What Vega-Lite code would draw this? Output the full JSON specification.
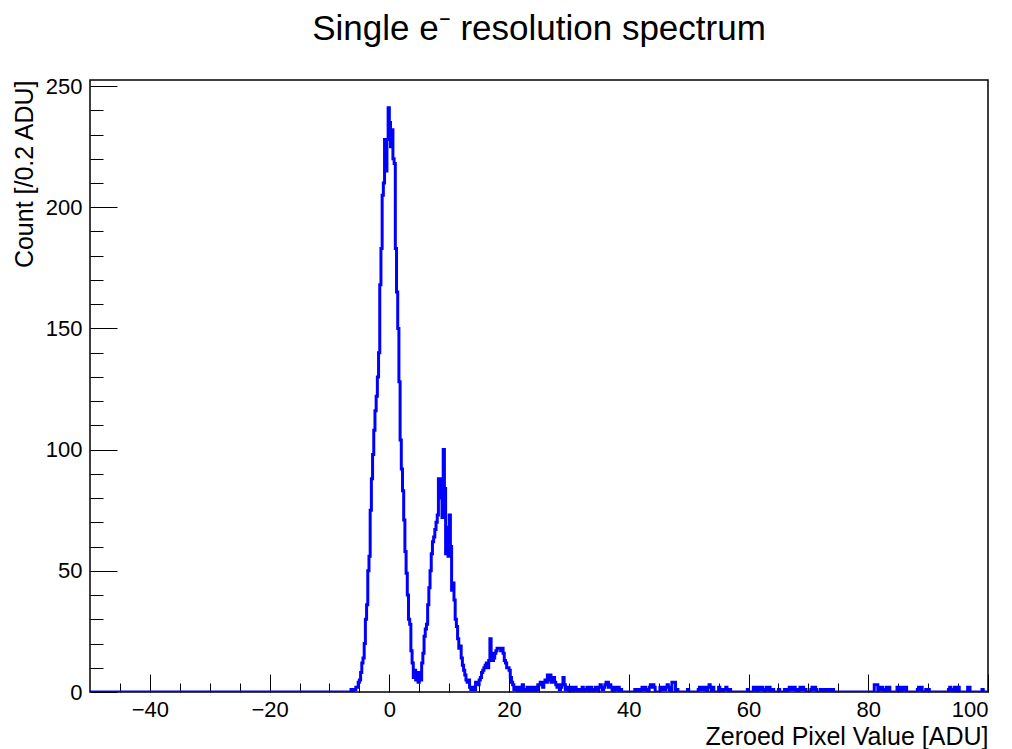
{
  "$schema": "https://vega.github.io/schema/vega-lite/v6.json",
  "width": 898,
  "height": 612,
  "autosize": "none",
  "padding": {"left": 90, "top": 80, "right": 24, "bottom": 57},
  "background": "white",
  "title": {"text": "Single e⁻ resolution spectrum", "fontSize": 35, "font": "Liberation Sans", "fontWeight": "normal", "anchor": "middle", "color": "black", "offset": 28},
  "config": {
    "view": {"stroke": "black", "strokeWidth": 1.5},
    "axis": {"domain": false, "grid": false, "tickColor": "black", "tickWidth": 1, "labelColor": "black", "labelFont": "Liberation Sans", "labelFontSize": 22, "titleFont": "Liberation Sans", "titleFontSize": 25, "titleFontWeight": "normal", "titleColor": "black"}
  },
  "data": {"values": [
    {"x": -50, "n": 0}, {"x": -6.6, "n": 0}, {"x": -6.4, "n": 1}, {"x": -6.2, "n": 0}, {"x": -6.0, "n": 1}, {"x": -5.8, "n": 1}, {"x": -5.6, "n": 2}, {"x": -5.4, "n": 2}, {"x": -5.2, "n": 4}, {"x": -5.0, "n": 5}, {"x": -4.8, "n": 8}, {"x": -4.6, "n": 12}, {"x": -4.4, "n": 14}, {"x": -4.2, "n": 20}, {"x": -4.0, "n": 30}, {"x": -3.8, "n": 36}, {"x": -3.6, "n": 50}, {"x": -3.4, "n": 56}, {"x": -3.2, "n": 75}, {"x": -3.0, "n": 88}, {"x": -2.8, "n": 98}, {"x": -2.6, "n": 108}, {"x": -2.4, "n": 116}, {"x": -2.2, "n": 122}, {"x": -2.0, "n": 130}, {"x": -1.8, "n": 140}, {"x": -1.6, "n": 168}, {"x": -1.4, "n": 183}, {"x": -1.2, "n": 205}, {"x": -1.0, "n": 210}, {"x": -0.8, "n": 228}, {"x": -0.6, "n": 215}, {"x": -0.4, "n": 228}, {"x": -0.2, "n": 241}, {"x": 0.0, "n": 235}, {"x": 0.2, "n": 225}, {"x": 0.4, "n": 232}, {"x": 0.6, "n": 220}, {"x": 0.8, "n": 218}, {"x": 1.0, "n": 183}, {"x": 1.2, "n": 165}, {"x": 1.4, "n": 150}, {"x": 1.6, "n": 128}, {"x": 1.8, "n": 104}, {"x": 2.0, "n": 92}, {"x": 2.2, "n": 83}, {"x": 2.4, "n": 71}, {"x": 2.6, "n": 58}, {"x": 2.8, "n": 49}, {"x": 3.0, "n": 40}, {"x": 3.2, "n": 30}, {"x": 3.4, "n": 28}, {"x": 3.6, "n": 17}, {"x": 3.8, "n": 12}, {"x": 4.0, "n": 6}, {"x": 4.2, "n": 9}, {"x": 4.4, "n": 5}, {"x": 4.6, "n": 8}, {"x": 4.8, "n": 4}, {"x": 5.0, "n": 8}, {"x": 5.2, "n": 5}, {"x": 5.4, "n": 12}, {"x": 5.6, "n": 16}, {"x": 5.8, "n": 23}, {"x": 6.0, "n": 26}, {"x": 6.2, "n": 28}, {"x": 6.4, "n": 36}, {"x": 6.6, "n": 43}, {"x": 6.8, "n": 50}, {"x": 7.0, "n": 57}, {"x": 7.2, "n": 62}, {"x": 7.4, "n": 64}, {"x": 7.6, "n": 67}, {"x": 7.8, "n": 70}, {"x": 8.0, "n": 73}, {"x": 8.2, "n": 88}, {"x": 8.4, "n": 80}, {"x": 8.6, "n": 88}, {"x": 8.8, "n": 72}, {"x": 9.0, "n": 100}, {"x": 9.2, "n": 84}, {"x": 9.4, "n": 57}, {"x": 9.6, "n": 68}, {"x": 9.8, "n": 56}, {"x": 10.0, "n": 73}, {"x": 10.2, "n": 60}, {"x": 10.4, "n": 42}, {"x": 10.6, "n": 45}, {"x": 10.8, "n": 38}, {"x": 11.0, "n": 30}, {"x": 11.2, "n": 27}, {"x": 11.4, "n": 22}, {"x": 11.6, "n": 18}, {"x": 11.8, "n": 19}, {"x": 12.0, "n": 14}, {"x": 12.2, "n": 11}, {"x": 12.4, "n": 9}, {"x": 12.6, "n": 7}, {"x": 12.8, "n": 5}, {"x": 13.0, "n": 4}, {"x": 13.2, "n": 5}, {"x": 13.4, "n": 2}, {"x": 13.6, "n": 1}, {"x": 13.8, "n": 1}, {"x": 14.0, "n": 2}, {"x": 14.2, "n": 1}, {"x": 14.4, "n": 4}, {"x": 14.6, "n": 4}, {"x": 14.8, "n": 3}, {"x": 15.0, "n": 5}, {"x": 15.2, "n": 6}, {"x": 15.4, "n": 8}, {"x": 15.6, "n": 9}, {"x": 15.8, "n": 10}, {"x": 16.0, "n": 11}, {"x": 16.2, "n": 12}, {"x": 16.4, "n": 10}, {"x": 16.6, "n": 13}, {"x": 16.8, "n": 22}, {"x": 17.0, "n": 16}, {"x": 17.2, "n": 13}, {"x": 17.4, "n": 14}, {"x": 17.6, "n": 16}, {"x": 17.8, "n": 17}, {"x": 18.0, "n": 18}, {"x": 18.2, "n": 18}, {"x": 18.4, "n": 18}, {"x": 18.6, "n": 17}, {"x": 18.8, "n": 18}, {"x": 19.0, "n": 16}, {"x": 19.2, "n": 13}, {"x": 19.4, "n": 12}, {"x": 19.6, "n": 10}, {"x": 19.8, "n": 10}, {"x": 20.0, "n": 9}, {"x": 20.2, "n": 6}, {"x": 20.4, "n": 4}, {"x": 20.6, "n": 3}, {"x": 20.8, "n": 1}, {"x": 21.0, "n": 2}, {"x": 21.2, "n": 1}, {"x": 21.4, "n": 0}, {"x": 21.6, "n": 2}, {"x": 21.8, "n": 1}, {"x": 22.0, "n": 0}, {"x": 22.2, "n": 3}, {"x": 22.4, "n": 1}, {"x": 22.6, "n": 0}, {"x": 22.8, "n": 1}, {"x": 23.0, "n": 2}, {"x": 23.2, "n": 0}, {"x": 23.4, "n": 1}, {"x": 23.6, "n": 2}, {"x": 23.8, "n": 0}, {"x": 24.0, "n": 1}, {"x": 24.2, "n": 2}, {"x": 24.4, "n": 0}, {"x": 24.6, "n": 1}, {"x": 24.8, "n": 3}, {"x": 25.0, "n": 3}, {"x": 25.2, "n": 4}, {"x": 25.4, "n": 3}, {"x": 25.6, "n": 2}, {"x": 25.8, "n": 4}, {"x": 26.0, "n": 5}, {"x": 26.2, "n": 4}, {"x": 26.4, "n": 7}, {"x": 26.6, "n": 5}, {"x": 26.8, "n": 7}, {"x": 27.0, "n": 4}, {"x": 27.2, "n": 5}, {"x": 27.4, "n": 6}, {"x": 27.6, "n": 4}, {"x": 27.8, "n": 3}, {"x": 28.0, "n": 2}, {"x": 28.2, "n": 3}, {"x": 28.4, "n": 1}, {"x": 28.6, "n": 2}, {"x": 28.8, "n": 3}, {"x": 29.0, "n": 6}, {"x": 29.2, "n": 3}, {"x": 29.4, "n": 1}, {"x": 29.6, "n": 2}, {"x": 29.8, "n": 1}, {"x": 30.0, "n": 0}, {"x": 30.2, "n": 1}, {"x": 30.4, "n": 2}, {"x": 30.6, "n": 0}, {"x": 30.8, "n": 1}, {"x": 31.0, "n": 2}, {"x": 31.2, "n": 1}, {"x": 31.4, "n": 0}, {"x": 31.6, "n": 1}, {"x": 31.8, "n": 0}, {"x": 32.0, "n": 1}, {"x": 32.2, "n": 2}, {"x": 32.4, "n": 0}, {"x": 32.6, "n": 1}, {"x": 32.8, "n": 1}, {"x": 33.0, "n": 2}, {"x": 33.2, "n": 0}, {"x": 33.4, "n": 1}, {"x": 33.6, "n": 2}, {"x": 33.8, "n": 1}, {"x": 34.0, "n": 0}, {"x": 34.2, "n": 1}, {"x": 34.4, "n": 2}, {"x": 34.6, "n": 1}, {"x": 34.8, "n": 0}, {"x": 35.0, "n": 2}, {"x": 35.2, "n": 3}, {"x": 35.4, "n": 2}, {"x": 35.6, "n": 1}, {"x": 35.8, "n": 2}, {"x": 36.0, "n": 3}, {"x": 36.2, "n": 4}, {"x": 36.4, "n": 4}, {"x": 36.6, "n": 2}, {"x": 36.8, "n": 3}, {"x": 37.0, "n": 2}, {"x": 37.2, "n": 1}, {"x": 37.4, "n": 0}, {"x": 37.6, "n": 2}, {"x": 37.8, "n": 2}, {"x": 38.0, "n": 1}, {"x": 38.2, "n": 2}, {"x": 38.4, "n": 0}, {"x": 38.6, "n": 1}, {"x": 38.8, "n": 0},
    {"x": 41.0, "n": 1}, {"x": 41.2, "n": 1}, {"x": 41.4, "n": 0}, {"x": 41.6, "n": 1}, {"x": 41.8, "n": 0}, {"x": 42.0, "n": 1}, {"x": 42.2, "n": 2}, {"x": 42.4, "n": 1}, {"x": 42.6, "n": 2}, {"x": 42.8, "n": 1}, {"x": 43.0, "n": 0}, {"x": 43.4, "n": 2}, {"x": 43.6, "n": 3}, {"x": 43.8, "n": 2}, {"x": 44.0, "n": 3}, {"x": 44.2, "n": 2}, {"x": 44.4, "n": 0}, {"x": 45.2, "n": 2}, {"x": 45.4, "n": 1}, {"x": 45.6, "n": 2}, {"x": 45.8, "n": 2}, {"x": 46.0, "n": 1}, {"x": 46.2, "n": 2}, {"x": 46.4, "n": 3}, {"x": 46.6, "n": 2}, {"x": 46.8, "n": 1}, {"x": 47.0, "n": 0}, {"x": 47.2, "n": 4}, {"x": 47.4, "n": 4}, {"x": 47.6, "n": 4}, {"x": 47.8, "n": 0}, {"x": 48.0, "n": 1}, {"x": 48.2, "n": 0}, {"x": 49.8, "n": 1}, {"x": 50.0, "n": 0},
    {"x": 51.6, "n": 1}, {"x": 51.8, "n": 2}, {"x": 52.0, "n": 1}, {"x": 52.2, "n": 2}, {"x": 52.4, "n": 1}, {"x": 52.6, "n": 2}, {"x": 52.8, "n": 1}, {"x": 53.0, "n": 0}, {"x": 53.2, "n": 2}, {"x": 53.4, "n": 3}, {"x": 53.6, "n": 2}, {"x": 53.8, "n": 0}, {"x": 54.0, "n": 2}, {"x": 54.2, "n": 0}, {"x": 55.0, "n": 2}, {"x": 55.2, "n": 1}, {"x": 55.4, "n": 0}, {"x": 55.8, "n": 1}, {"x": 56.0, "n": 1}, {"x": 56.2, "n": 2}, {"x": 56.4, "n": 1}, {"x": 56.6, "n": 0}, {"x": 56.8, "n": 1}, {"x": 57.0, "n": 0}, {"x": 59.8, "n": 1}, {"x": 60.0, "n": 0},
    {"x": 60.8, "n": 2}, {"x": 61.0, "n": 1}, {"x": 61.2, "n": 2}, {"x": 61.4, "n": 0}, {"x": 61.6, "n": 1}, {"x": 61.8, "n": 2}, {"x": 62.0, "n": 1}, {"x": 62.2, "n": 2}, {"x": 62.4, "n": 1}, {"x": 62.6, "n": 0}, {"x": 62.8, "n": 1}, {"x": 63.0, "n": 2}, {"x": 63.2, "n": 1}, {"x": 63.4, "n": 2}, {"x": 63.6, "n": 0}, {"x": 63.8, "n": 1}, {"x": 64.0, "n": 1}, {"x": 64.2, "n": 0}, {"x": 65.0, "n": 1}, {"x": 65.2, "n": 0}, {"x": 66.0, "n": 1}, {"x": 66.2, "n": 0}, {"x": 66.6, "n": 1}, {"x": 66.8, "n": 2}, {"x": 67.0, "n": 1}, {"x": 67.2, "n": 2}, {"x": 67.4, "n": 1}, {"x": 67.6, "n": 2}, {"x": 67.8, "n": 1}, {"x": 68.0, "n": 0}, {"x": 68.4, "n": 1}, {"x": 68.6, "n": 2}, {"x": 68.8, "n": 1}, {"x": 69.0, "n": 2}, {"x": 69.2, "n": 1}, {"x": 69.4, "n": 1}, {"x": 69.6, "n": 0}, {"x": 70.4, "n": 1}, {"x": 70.6, "n": 2}, {"x": 70.8, "n": 1}, {"x": 71.0, "n": 2}, {"x": 71.2, "n": 1}, {"x": 71.4, "n": 0}, {"x": 72.0, "n": 1}, {"x": 72.2, "n": 1}, {"x": 72.4, "n": 0}, {"x": 72.6, "n": 1}, {"x": 72.8, "n": 1}, {"x": 73.0, "n": 0}, {"x": 73.4, "n": 1}, {"x": 73.6, "n": 1}, {"x": 73.8, "n": 0}, {"x": 74.0, "n": 1}, {"x": 74.2, "n": 0},
    {"x": 81.0, "n": 3}, {"x": 81.2, "n": 3}, {"x": 81.4, "n": 3}, {"x": 81.6, "n": 0}, {"x": 81.8, "n": 2}, {"x": 82.0, "n": 1}, {"x": 82.2, "n": 2}, {"x": 82.4, "n": 1}, {"x": 82.6, "n": 0}, {"x": 83.0, "n": 2}, {"x": 83.2, "n": 1}, {"x": 83.4, "n": 2}, {"x": 83.6, "n": 0}, {"x": 84.8, "n": 2}, {"x": 85.0, "n": 1}, {"x": 85.2, "n": 2}, {"x": 85.4, "n": 0}, {"x": 85.6, "n": 1}, {"x": 85.8, "n": 2}, {"x": 86.0, "n": 1}, {"x": 86.2, "n": 2}, {"x": 86.4, "n": 0}, {"x": 88.2, "n": 1}, {"x": 88.4, "n": 2}, {"x": 88.6, "n": 1}, {"x": 88.8, "n": 2}, {"x": 89.0, "n": 0}, {"x": 89.6, "n": 1}, {"x": 89.8, "n": 0}, {"x": 90.0, "n": 1}, {"x": 90.2, "n": 0}, {"x": 93.4, "n": 1}, {"x": 93.6, "n": 2}, {"x": 93.8, "n": 1}, {"x": 94.0, "n": 0}, {"x": 94.4, "n": 2}, {"x": 94.6, "n": 1}, {"x": 94.8, "n": 0}, {"x": 95.0, "n": 2}, {"x": 95.2, "n": 0}, {"x": 96.6, "n": 2}, {"x": 96.8, "n": 2}, {"x": 97.0, "n": 0}, {"x": 99.0, "n": 1}, {"x": 99.2, "n": 0}, {"x": 100, "n": 0}
  ]},
  "layer": [
    {
      "mark": {"type": "line", "interpolate": "step-after", "color": "#0000ff", "strokeWidth": 3, "clip": true},
      "encoding": {
        "x": {"field": "x", "type": "quantitative", "scale": {"domain": [-50, 100], "nice": false, "zero": false},
              "axis": {"orient": "bottom", "values": [-40, -20, 0, 20, 40, 60, 80, 100], "tickSize": -18, "labelPadding": 25, "title": "Zeroed Pixel Value [ADU]", "titleAnchor": "end", "titlePadding": 4}},
        "y": {"field": "n", "type": "quantitative", "scale": {"domain": [0, 252.5], "nice": false},
              "axis": {"orient": "left", "values": [0, 50, 100, 150, 200, 250], "tickSize": -27, "labelPadding": 35, "title": "Count [/0.2 ADU]", "titleAnchor": "end", "titlePadding": 8}}
      }
    },
    {
      "mark": {"type": "line", "opacity": 0},
      "encoding": {
        "x": {"field": "x", "type": "quantitative", "axis": {"orient": "bottom", "values": [-45, -35, -30, -25, -15, -10, -5, 5, 10, 15, 25, 30, 35, 45, 50, 55, 65, 70, 75, 85, 90, 95], "tickSize": -9, "labels": false, "title": null}},
        "y": {"field": "n", "type": "quantitative", "axis": {"orient": "left", "values": [10, 20, 30, 40, 60, 70, 80, 90, 110, 120, 130, 140, 160, 170, 180, 190, 210, 220, 230, 240], "tickSize": -13, "labels": false, "title": null}}
      }
    }
  ],
  "resolve": {"axis": {"x": "independent", "y": "independent"}}
}
